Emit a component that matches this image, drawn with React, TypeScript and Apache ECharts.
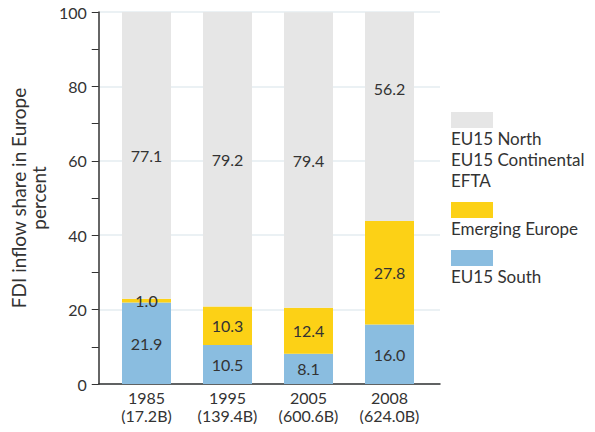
import React, { useEffect, useRef } from "react";
import * as echarts from "echarts";

const categories = ["1985\n(17.2B)", "1995\n(139.4B)", "2005\n(600.6B)", "2008\n(624.0B)"];
const southValues = [21.9, 10.5, 8.1, 16.0];
const emergingValues = [1.0, 10.3, 12.4, 27.8];
const northValues = [77.1, 79.2, 79.4, 56.2];
const seriesNames = ["EU15 South", "Emerging Europe", "EU15 North\nEU15 Continental\nEFTA"];
const yTicks = [0, 20, 40, 60, 80, 100];

const FONT = "Lato";
const TEXT = "#333333";
const COLORS = ["#8abde0", "#fcd116", "#e6e6e6"];

export default function App() {
  const ref = useRef<HTMLDivElement>(null);
  useEffect(() => {
    if (!ref.current) return;
    const chart = echarts.init(ref.current, null, { renderer: "svg" });

    const seriesData = [southValues, emergingValues, northValues];
    const labelOffsets: Record<string, number[]> = { "2:3": [0, -28] };

    const series = seriesData.map((vals, si) => ({
      type: "bar",
      name: seriesNames[si],
      stack: "total",
      xAxisIndex: 1,
      yAxisIndex: 1,
      barWidth: 49,
      itemStyle: { color: COLORS[si] },
      label: {
        show: true,
        position: "inside",
        color: TEXT,
        fontFamily: FONT,
        fontSize: 16,
        formatter: (p: any) => Number(p.value).toFixed(1),
      },
      data: vals.map((v, i) => {
        const off = labelOffsets[si + ":" + i];
        return off ? { value: v, label: { offset: off } } : v;
      }),
    }));

    const legendEls: any[] = [];
    let y = 112;
    for (let si = seriesNames.length - 1; si >= 0; si--) {
      const lines = seriesNames[si].split("\n").length;
      legendEls.push({
        type: "rect",
        left: 451,
        top: y,
        shape: { width: 42, height: 16 },
        style: { fill: COLORS[si] },
      });
      legendEls.push({
        type: "text",
        left: 451,
        top: y + 16,
        style: {
          text: seriesNames[si],
          fill: TEXT,
          font: `17px ${FONT}`,
          lineHeight: 21,
        },
      });
      y += 16 + lines * 21 + 11;
    }

    chart.setOption({
      animation: false,
      grid: [
        { left: 97, right: 155, top: 12, bottom: 48 },
        { left: 106, right: 165, top: 12, bottom: 48 },
      ],
      xAxis: [
        {
          type: "category",
          gridIndex: 0,
          data: categories,
          axisLine: { show: true, lineStyle: { color: "#333333", width: 1.5 } },
          axisTick: { show: false },
          axisLabel: { show: false },
        },
        {
          type: "category",
          gridIndex: 1,
          data: categories,
          axisLine: { show: false },
          axisTick: { show: false },
          axisLabel: {
            color: TEXT,
            fontFamily: FONT,
            fontSize: 16,
            lineHeight: 18,
            margin: 4,
          },
        },
      ],
      yAxis: [
        {
          type: "value",
          gridIndex: 0,
          min: yTicks[0],
          max: yTicks[yTicks.length - 1],
          interval: yTicks[1] - yTicks[0],
          name: "FDI inflow share in Europe\npercent",
          nameLocation: "middle",
          nameRotate: 90,
          nameGap: 50,
          nameTextStyle: { color: TEXT, fontFamily: FONT, fontSize: 19, lineHeight: 20, align: "center" },
          axisLine: { show: true, lineStyle: { color: "#333333", width: 1.5 } },
          axisTick: { show: true, length: 7, lineStyle: { color: "#333333" } },
          minorTick: { show: true, splitNumber: 2, length: 7, lineStyle: { color: "#333333" } },
          axisLabel: { color: TEXT, fontFamily: FONT, fontSize: 16, margin: 12 },
          splitLine: { show: true, lineStyle: { color: "#e4edf0", width: 1.5 } },
        },
        {
          type: "value",
          gridIndex: 1,
          min: yTicks[0],
          max: yTicks[yTicks.length - 1],
          show: false,
          splitLine: { show: false },
        },
      ],
      series,
      graphic: legendEls,
    });
    return () => chart.dispose();
  }, []);
  return <div ref={ref} style={{ width: 595, height: 432, margin: -8 }} />;
}
